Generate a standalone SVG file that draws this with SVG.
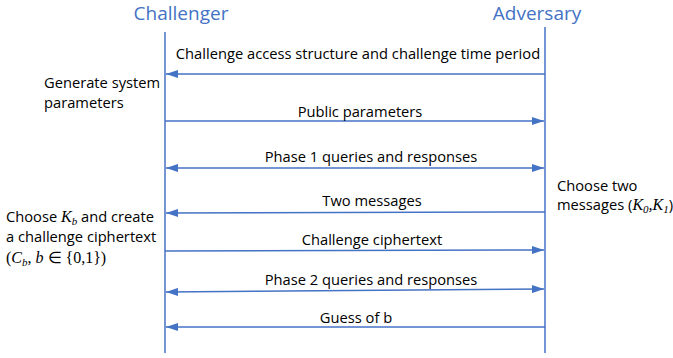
<svg xmlns="http://www.w3.org/2000/svg" width="673" height="358" viewBox="0 0 673 358">
  <style>
    .title { font-family: "Open Sans", "Liberation Sans", sans-serif; font-size: 19px; fill: #4472C4; }
    .lbl { font-family: "Open Sans", "Liberation Sans", sans-serif; font-size: 14.7px; fill: #000; }
    .math { font-family: "Liberation Serif", serif; font-style: italic; }
    .life { stroke: #4472C4; stroke-width: 1.5; fill: none; }
    .msg { stroke: #4472C4; stroke-width: 1.5; fill: none; }
  </style>
  <defs>
    <marker id="head" viewBox="0 0 12 8" refX="12" refY="4" markerWidth="12" markerHeight="8" markerUnits="userSpaceOnUse" orient="auto-start-reverse">
      <path d="M0,0 L12,4 L0,8 Z" fill="#4472C4"/>
    </marker>
  </defs>

  <g id="challenger">
    <text class="title" x="181" y="20" text-anchor="middle">Challenger</text>
    <line class="life" x1="165" y1="32" x2="165" y2="353"/>
  </g>
  <g id="adversary">
    <text class="title" x="537" y="20" text-anchor="middle">Adversary</text>
    <line class="life" x1="545" y1="27" x2="545" y2="353"/>
  </g>

  <g id="connectors">
    <line class="msg" x1="545" y1="74" x2="166" y2="74" marker-end="url(#head)"/>
    <line class="msg" x1="165" y1="121" x2="544" y2="121" marker-end="url(#head)"/>
    <line class="msg" x1="166" y1="168" x2="544" y2="168" marker-start="url(#head)" marker-end="url(#head)"/>
    <line class="msg" x1="545" y1="212" x2="166" y2="213" marker-end="url(#head)"/>
    <line class="msg" x1="165" y1="251" x2="544" y2="250" marker-end="url(#head)"/>
    <line class="msg" x1="166" y1="292" x2="544" y2="289" marker-start="url(#head)" marker-end="url(#head)"/>
    <line class="msg" x1="545" y1="327" x2="166" y2="327" marker-end="url(#head)"/>
  </g>

  <g id="message-labels">
    <text class="lbl" x="358" y="59" text-anchor="middle">Challenge access structure and challenge time period</text>
    <text class="lbl" x="360" y="117" text-anchor="middle">Public parameters</text>
    <text class="lbl" x="371" y="162" text-anchor="middle">Phase 1 queries and responses</text>
    <text class="lbl" x="372" y="206" text-anchor="middle">Two messages</text>
    <text class="lbl" x="372" y="245" text-anchor="middle">Challenge ciphertext</text>
    <text class="lbl" x="371" y="285" text-anchor="middle">Phase 2 queries and responses</text>
    <text class="lbl" x="356" y="323" text-anchor="middle">Guess of b</text>
  </g>

  <g id="challenger-setup">
    <text class="lbl" x="44" y="88">Generate system</text>
    <text class="lbl" x="44" y="108">parameters</text>
  </g>

  <g id="challenger-encrypt">
    <text class="lbl" x="6" y="222">Choose <tspan class="math" font-size="16">K</tspan><tspan class="math" font-size="11" dy="3">b</tspan><tspan dy="-3"> and create</tspan></text>
    <text class="lbl" x="6" y="242">a challenge ciphertext</text>
    <text class="lbl" x="6" y="263"><tspan font-family="Liberation Serif" font-size="16">(</tspan><tspan class="math" font-size="16">C</tspan><tspan class="math" font-size="11" dy="3">b</tspan><tspan font-family="Liberation Serif" font-size="16" dy="-3">, </tspan><tspan class="math" font-size="16">b</tspan><tspan font-family="Liberation Serif" font-size="16"> ∈ {0,1})</tspan></text>
  </g>

  <g id="adversary-choose">
    <text class="lbl" x="557" y="191">Choose two</text>
    <text class="lbl" x="557" y="210">messages (<tspan class="math" font-size="16">K</tspan><tspan class="math" font-size="11" dy="3">0</tspan><tspan class="math" font-size="16" dy="-3">,K</tspan><tspan class="math" font-size="11" dy="3">1</tspan><tspan dy="-3">)</tspan></text>
  </g>
</svg>
